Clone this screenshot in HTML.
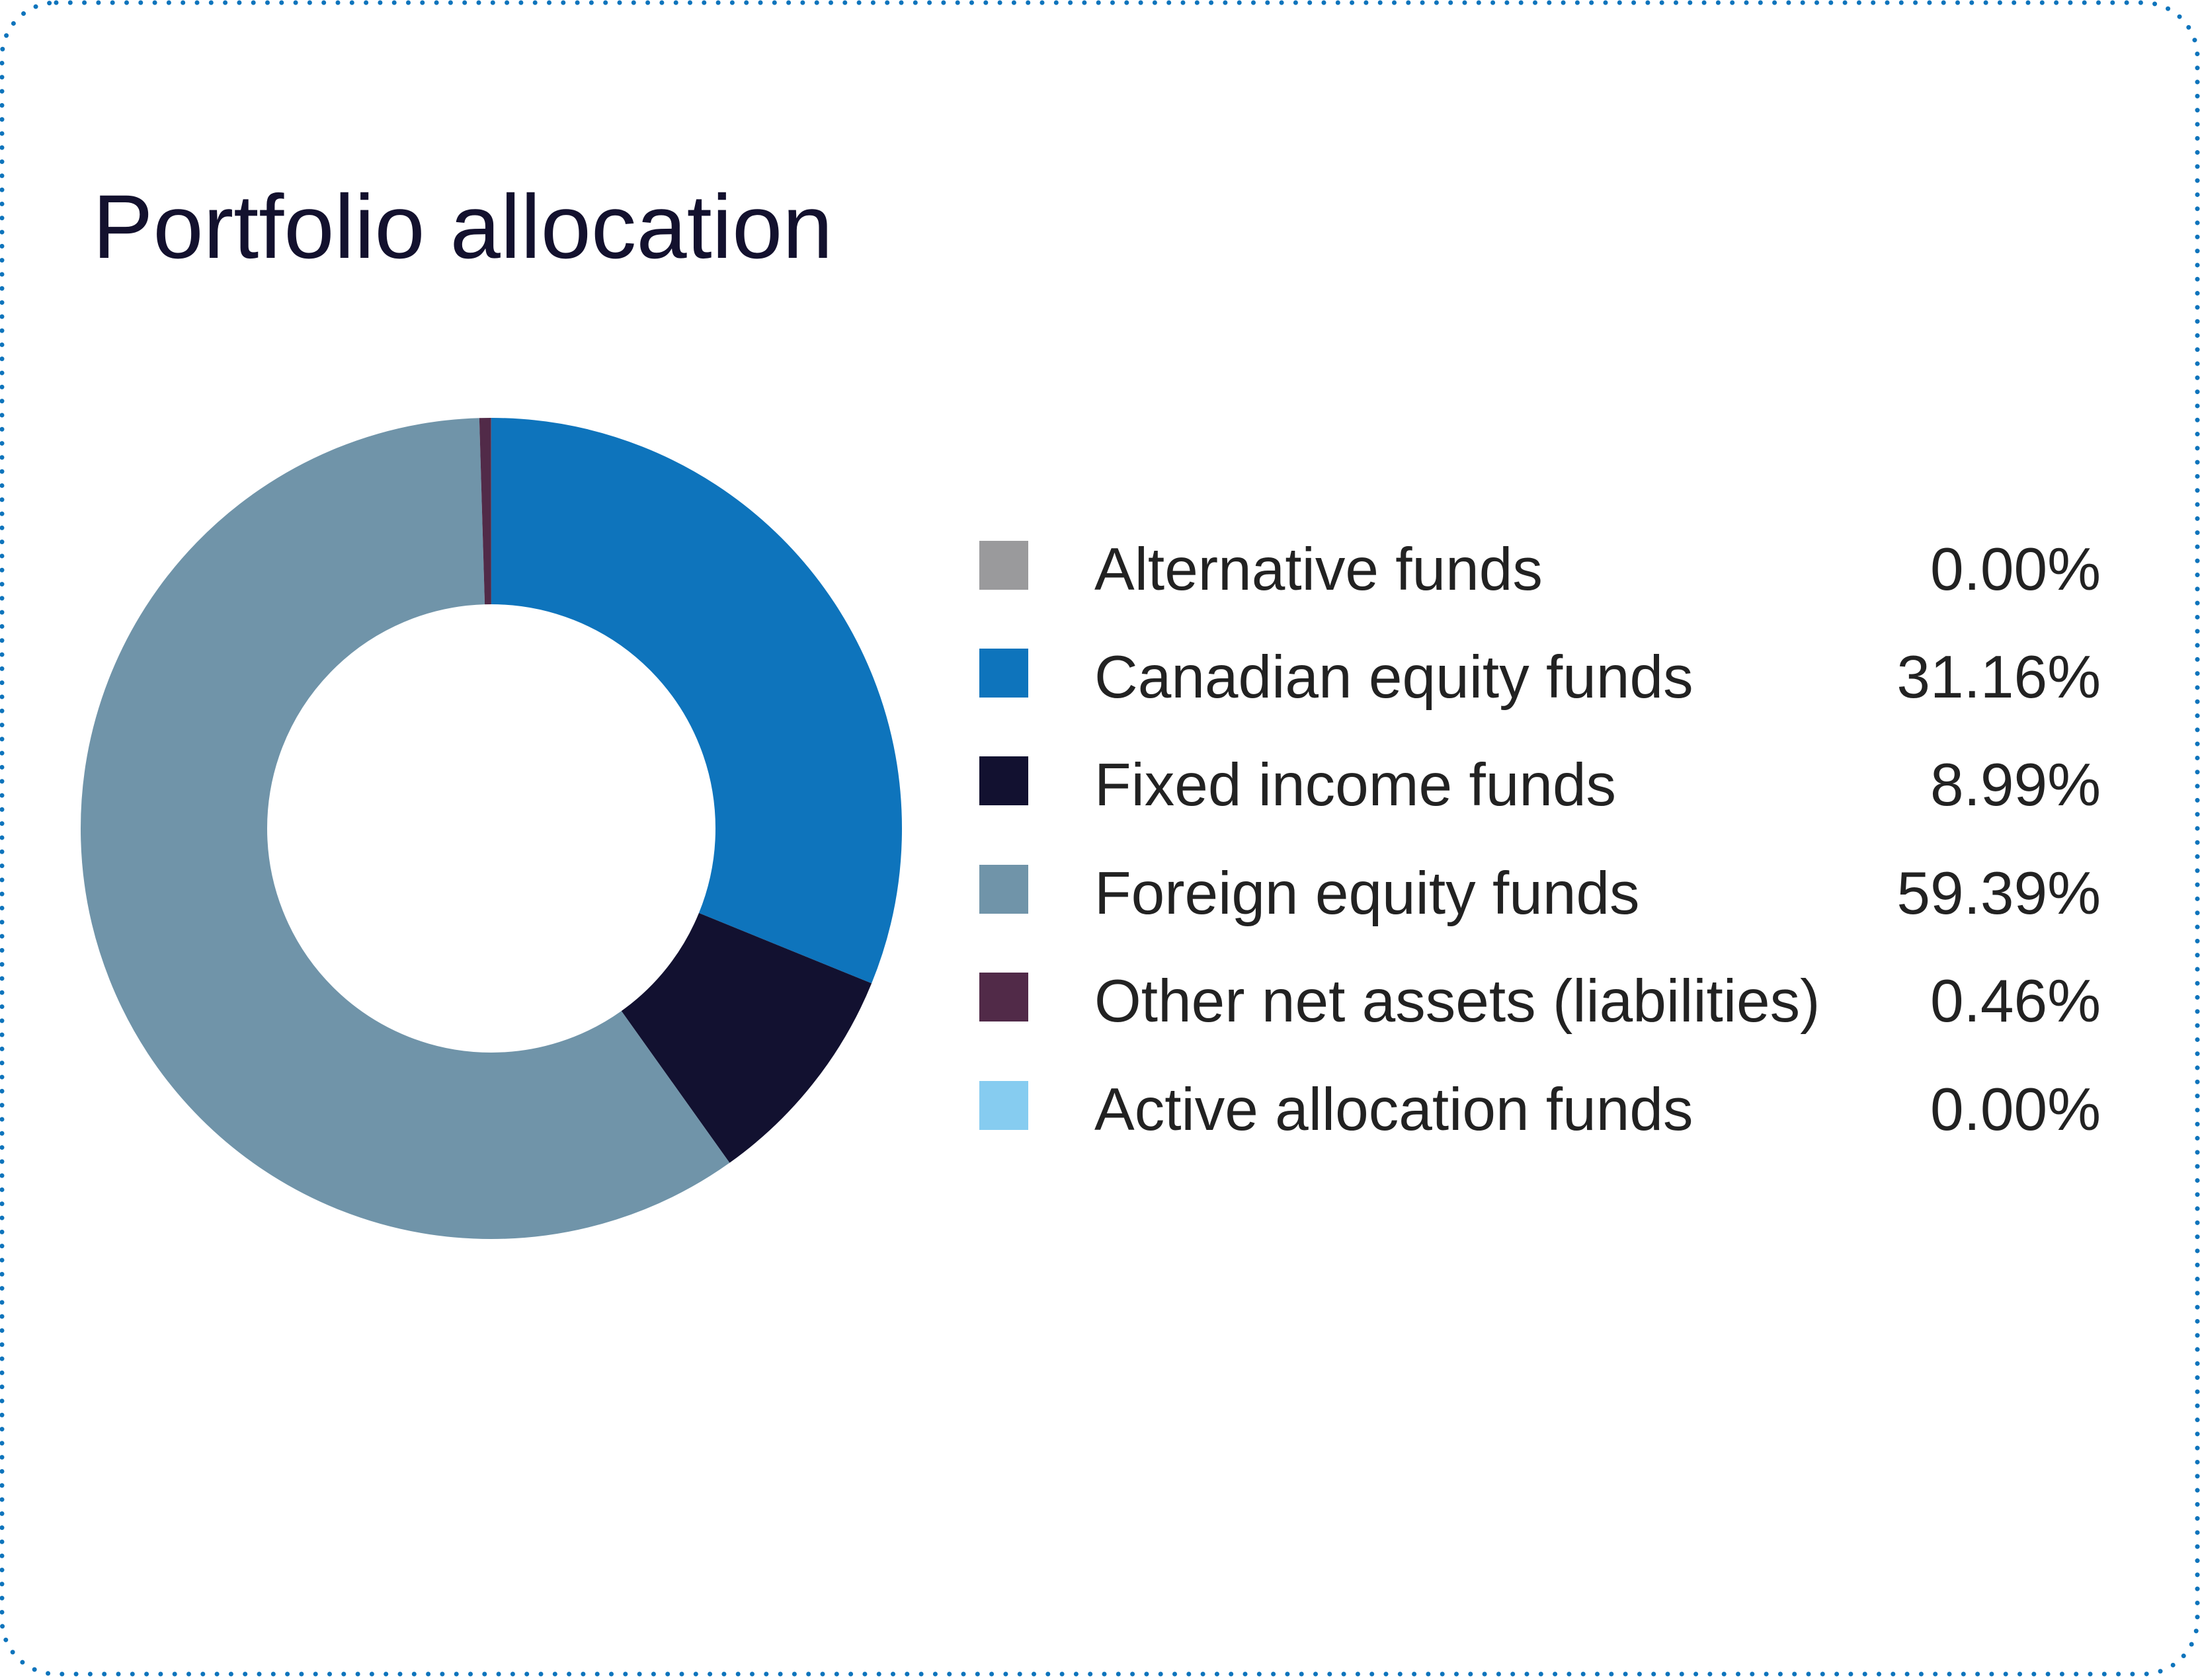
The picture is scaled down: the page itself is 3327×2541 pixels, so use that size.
<!DOCTYPE html>
<html><head><style>
html,body{margin:0;padding:0;background:#fff}
</style></head><body>
<svg width="3327" height="2536" viewBox="0 0 3327 2536" xmlns="http://www.w3.org/2000/svg">
<rect x="3" y="4" width="3320" height="2528" rx="82" ry="82" fill="none" stroke="#0e74bc" stroke-width="7" stroke-linecap="round" stroke-dasharray="0 21.3"/>
<text x="140" y="390" font-family="Liberation Sans, sans-serif" font-size="137" fill="#13112e">Portfolio allocation</text>
<g transform="rotate(-90 743 1253)" fill="none" stroke-width="282">
<circle cx="743" cy="1253" r="480" pathLength="100" stroke="#0e74bc" stroke-dasharray="31.16 68.84" stroke-dashoffset="0"/>
<circle cx="743" cy="1253" r="480" pathLength="100" stroke="#121130" stroke-dasharray="8.99 91.01" stroke-dashoffset="-31.16"/>
<circle cx="743" cy="1253" r="480" pathLength="100" stroke="#7094a9" stroke-dasharray="59.39 40.61" stroke-dashoffset="-40.15"/>
<circle cx="743" cy="1253" r="480" pathLength="100" stroke="#512a48" stroke-dasharray="0.46 99.54" stroke-dashoffset="-99.54"/>
</g>
<g font-family="Liberation Sans, sans-serif" font-size="91" fill="#222">
<rect x="1481" y="818" width="74" height="74" fill="#9a9a9c"/>
<text x="1655" y="892">Alternative funds</text><text x="3177" y="892" text-anchor="end">0.00%</text>
<rect x="1481" y="981" width="74" height="74" fill="#0e74bc"/>
<text x="1655" y="1055">Canadian equity funds</text><text x="3177" y="1055" text-anchor="end">31.16%</text>
<rect x="1481" y="1144" width="74" height="74" fill="#121130"/>
<text x="1655" y="1218">Fixed income funds</text><text x="3177" y="1218" text-anchor="end">8.99%</text>
<rect x="1481" y="1308" width="74" height="74" fill="#7094a9"/>
<text x="1655" y="1382">Foreign equity funds</text><text x="3177" y="1382" text-anchor="end">59.39%</text>
<rect x="1481" y="1471" width="74" height="74" fill="#512a48"/>
<text x="1655" y="1545">Other net assets (liabilities)</text><text x="3177" y="1545" text-anchor="end">0.46%</text>
<rect x="1481" y="1635" width="74" height="74" fill="#86ccf0"/>
<text x="1655" y="1709">Active allocation funds</text><text x="3177" y="1709" text-anchor="end">0.00%</text>
</g>
</svg>
</body></html>
